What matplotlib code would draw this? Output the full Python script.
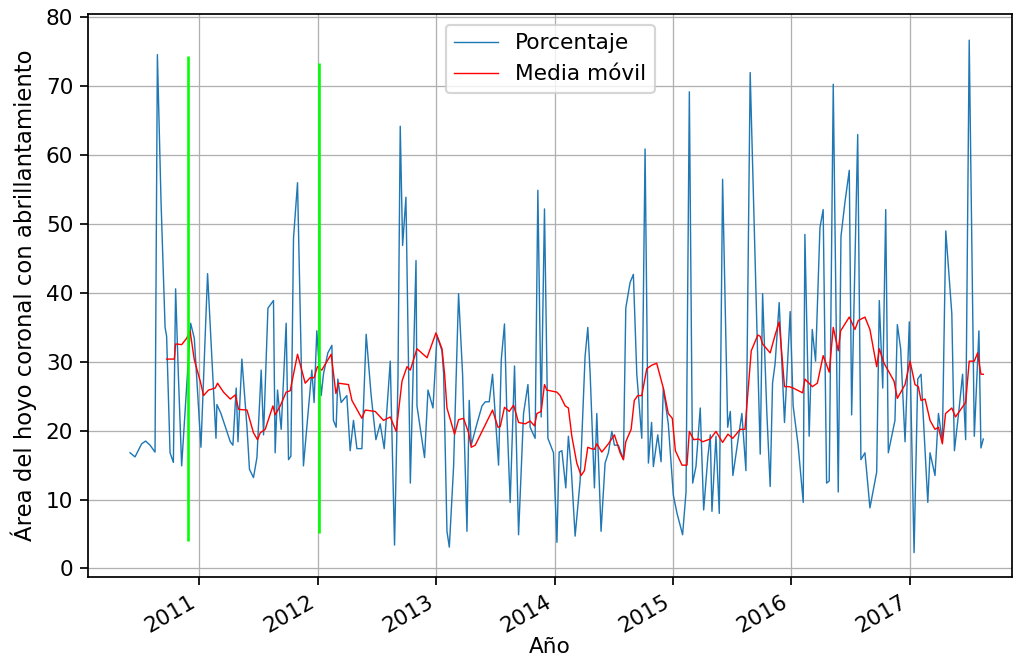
import numpy as np
import pandas as pd
import matplotlib
matplotlib.use("Agg")
import matplotlib.pyplot as plt

# fecha (año decimal) y porcentaje
anio = [2010.415, 2010.457, 2010.513, 2010.547, 2010.584, 2010.626, 2010.646, 2010.677, 2010.711, 2010.724,
        2010.753, 2010.781, 2010.800, 2010.823, 2010.851, 2010.893, 2010.927, 2010.958, 2011.014, 2011.070,
        2011.107, 2011.141, 2011.149, 2011.183, 2011.262, 2011.284, 2011.312, 2011.327, 2011.360, 2011.403,
        2011.424, 2011.458, 2011.487, 2011.523, 2011.543, 2011.580, 2011.627, 2011.641, 2011.661, 2011.692,
        2011.734, 2011.754, 2011.774, 2011.796, 2011.830, 2011.880, 2011.951, 2011.970, 2011.993, 2012.030,
        2012.049, 2012.086, 2012.120, 2012.133, 2012.156, 2012.170, 2012.198, 2012.246, 2012.274, 2012.302,
        2012.331, 2012.373, 2012.409, 2012.451, 2012.491, 2012.527, 2012.561, 2012.612, 2012.648, 2012.677,
        2012.696, 2012.716, 2012.744, 2012.781, 2012.829, 2012.837, 2012.901, 2012.930, 2012.972, 2013.006,
        2013.048, 2013.062, 2013.090, 2013.110, 2013.146, 2013.188, 2013.222, 2013.259, 2013.278, 2013.295,
        2013.343, 2013.386, 2013.414, 2013.447, 2013.475, 2013.526, 2013.549, 2013.576, 2013.597, 2013.624,
        2013.661, 2013.695, 2013.737, 2013.774, 2013.793, 2013.835, 2013.858, 2013.886, 2013.914, 2013.943,
        2013.990, 2014.019, 2014.038, 2014.061, 2014.094, 2014.116, 2014.139, 2014.173, 2014.215, 2014.257,
        2014.280, 2014.300, 2014.336, 2014.356, 2014.392, 2014.426, 2014.454, 2014.483, 2014.505, 2014.538,
        2014.581, 2014.601, 2014.637, 2014.665, 2014.694, 2014.736, 2014.764, 2014.792, 2014.819, 2014.834,
        2014.871, 2014.899, 2014.918, 2014.960, 2015.003, 2015.034, 2015.081, 2015.110, 2015.138, 2015.166,
        2015.194, 2015.230, 2015.259, 2015.295, 2015.315, 2015.329, 2015.363, 2015.391, 2015.419, 2015.462,
        2015.484, 2015.506, 2015.582, 2015.616, 2015.652, 2015.737, 2015.757, 2015.793, 2015.821, 2015.841,
        2015.863, 2015.897, 2015.942, 2015.990, 2016.015, 2016.057, 2016.100, 2016.114, 2016.150, 2016.176,
        2016.204, 2016.241, 2016.268, 2016.297, 2016.319, 2016.353, 2016.395, 2016.418, 2016.451, 2016.488,
        2016.508, 2016.559, 2016.586, 2016.620, 2016.662, 2016.719, 2016.741, 2016.770, 2016.795, 2016.817,
        2016.846, 2016.873, 2016.893, 2016.921, 2016.958, 2016.994, 2017.034, 2017.065, 2017.093, 2017.150,
        2017.169, 2017.211, 2017.240, 2017.273, 2017.302, 2017.353, 2017.375, 2017.414, 2017.444, 2017.470,
        2017.500, 2017.543, 2017.582, 2017.599, 2017.619]
porcentaje = [16.8, 16.2, 18.1, 18.5, 17.9, 16.9, 74.6, 53.1, 35.0, 33.7,
              16.8, 15.4, 40.6, 28.2, 14.9, 26.2, 35.6, 33.4, 17.6, 42.8,
              30.3, 18.9, 23.8, 22.5, 18.4, 17.9, 26.2, 18.4, 30.4, 20.5,
              14.4, 13.2, 16.1, 28.8, 19.4, 37.8, 38.9, 16.8, 25.9, 20.2,
              35.6, 15.8, 16.3, 47.9, 56.0, 14.9, 28.8, 24.1, 34.5, 25.1,
              28.2, 31.3, 32.4, 21.5, 20.5, 27.5, 24.1, 25.1, 17.1, 21.5,
              17.4, 17.4, 34.0, 25.1, 18.7, 21.0, 17.4, 30.1, 3.4, 27.7,
              64.2, 46.9, 53.9, 12.4, 44.7, 23.6, 16.1, 25.9, 23.3, 33.8,
              31.6, 28.2, 5.4, 3.1, 14.8, 39.9, 28.2, 5.4, 24.4, 17.9,
              21.0, 23.6, 24.2, 24.2, 28.2, 15.0, 30.3, 35.5, 22.0, 9.6,
              29.4, 4.9, 22.5, 26.7, 20.5, 18.9, 54.9, 22.0, 52.2, 18.9,
              16.8, 3.8, 16.9, 17.1, 11.7, 19.2, 14.8, 4.7, 12.7, 30.8,
              35.0, 28.2, 11.7, 22.5, 5.4, 15.3, 16.8, 19.9, 17.9, 17.9,
              15.8, 37.8, 41.5, 42.7, 28.2, 18.9, 60.9, 15.3, 21.2, 14.8,
              19.4, 15.5, 26.2, 21.0, 10.6, 8.0, 4.9, 11.1, 69.2, 12.4,
              14.8, 23.3, 8.5, 16.3, 19.4, 8.3, 19.2, 8.0, 56.5, 20.5,
              22.8, 13.5, 22.5, 14.2, 72.0, 16.6, 39.9, 22.5, 11.9, 26.9,
              29.8, 38.6, 21.2, 37.3, 23.6, 17.9, 9.6, 48.5, 19.2, 34.7,
              30.1, 49.5, 52.1, 12.4, 12.7, 70.3, 11.1, 48.2, 53.1, 57.8,
              22.3, 63.0, 15.8, 16.8, 8.8, 14.0, 38.9, 26.2, 52.1, 16.8,
              19.2, 21.5, 35.4, 31.9, 18.4, 35.8, 2.3, 27.5, 28.2, 9.6,
              16.8, 13.5, 22.5, 18.4, 49.0, 37.0, 17.1, 23.1, 28.2, 18.7,
              76.7, 19.2, 34.5, 17.5, 18.8]

# media movil
anio_media = [2010.724, 2010.789, 2010.800, 2010.851, 2010.893, 2010.922, 2010.958, 2011.008, 2011.036, 2011.078,
              2011.135, 2011.154, 2011.205, 2011.262, 2011.304, 2011.332, 2011.403, 2011.458, 2011.492, 2011.515,
              2011.557, 2011.622, 2011.641, 2011.684, 2011.734, 2011.768, 2011.830, 2011.895, 2011.937, 2011.970,
              2011.998, 2012.035, 2012.114, 2012.154, 2012.176, 2012.260, 2012.289, 2012.373, 2012.401, 2012.485,
              2012.555, 2012.612, 2012.662, 2012.711, 2012.753, 2012.781, 2012.837, 2012.922, 2012.997, 2013.048,
              2013.070, 2013.090, 2013.154, 2013.188, 2013.230, 2013.273, 2013.295, 2013.329, 2013.386, 2013.475,
              2013.521, 2013.540, 2013.576, 2013.616, 2013.653, 2013.695, 2013.751, 2013.793, 2013.830, 2013.850,
              2013.886, 2013.914, 2013.934, 2014.019, 2014.046, 2014.089, 2014.116, 2014.145, 2014.187, 2014.224,
              2014.251, 2014.280, 2014.308, 2014.336, 2014.356, 2014.398, 2014.454, 2014.505, 2014.553, 2014.581,
              2014.601, 2014.646, 2014.673, 2014.702, 2014.736, 2014.778, 2014.819, 2014.862, 2014.918, 2014.960,
              2014.994, 2015.020, 2015.076, 2015.118, 2015.138, 2015.175, 2015.217, 2015.251, 2015.315, 2015.363,
              2015.419, 2015.464, 2015.505, 2015.568, 2015.608, 2015.661, 2015.717, 2015.737, 2015.757, 2015.821,
              2015.863, 2015.897, 2015.942, 2015.981, 2016.015, 2016.095, 2016.114, 2016.177, 2016.219, 2016.268,
              2016.319, 2016.353, 2016.395, 2016.415, 2016.488, 2016.536, 2016.564, 2016.620, 2016.662, 2016.719,
              2016.741, 2016.781, 2016.865, 2016.893, 2016.958, 2017.000, 2017.042, 2017.070, 2017.093, 2017.127,
              2017.169, 2017.211, 2017.240, 2017.273, 2017.300, 2017.353, 2017.384, 2017.450, 2017.470, 2017.500,
              2017.543, 2017.571, 2017.599, 2017.619]
media = [30.4, 30.4, 32.6, 32.5, 33.4, 34.5, 30.3, 27.2, 25.1, 25.9,
         26.2, 26.9, 25.6, 24.6, 25.2, 23.1, 23.0, 19.7, 18.7, 19.7,
         20.2, 23.6, 22.3, 23.6, 25.6, 25.8, 31.1, 26.9, 27.7, 27.7,
         29.3, 28.8, 31.1, 25.4, 26.9, 26.7, 24.4, 21.8, 23.0, 22.8,
         21.5, 22.0, 19.9, 27.2, 29.3, 28.8, 31.9, 30.6, 34.2, 31.9,
         28.2, 23.3, 19.5, 21.6, 21.8, 19.7, 17.6, 17.9, 19.9, 23.0,
         20.5, 20.6, 23.4, 22.8, 23.7, 21.2, 21.0, 21.4, 20.7, 22.5,
         22.8, 26.7, 25.9, 25.6, 25.1, 23.6, 23.3, 19.2, 15.3, 13.5,
         14.2, 17.6, 17.4, 17.3, 18.1, 16.9, 18.1, 19.4, 16.8, 15.8,
         18.4, 20.2, 24.4, 25.1, 25.1, 29.0, 29.5, 29.8, 26.2, 22.5,
         21.8, 17.1, 15.0, 15.0, 19.9, 18.7, 18.8, 18.4, 18.8, 19.9,
         18.3, 19.5, 18.9, 20.2, 20.2, 31.6, 33.9, 33.7, 32.6, 31.3,
         33.9, 35.8, 26.4, 26.4, 26.2, 25.5, 27.5, 26.4, 26.9, 30.9,
         28.5, 35.0, 31.6, 34.5, 36.5, 34.7, 36.0, 36.5, 34.7, 29.3,
         31.9, 29.8, 27.2, 24.7, 26.7, 30.1, 26.7, 26.4, 24.4, 24.6,
         21.5, 20.2, 20.5, 18.1, 22.5, 23.3, 22.0, 23.6, 24.1, 30.1,
         30.1, 31.3, 28.2, 28.2]

# lineas verdes (fecha, minimo, maximo)
anio_marcas = [2010.907, 2012.013]
marca_min = [4.0, 5.1]
marca_max = [74.4, 73.4]


def a_fecha(a):
    a = np.asarray(a)
    y = np.floor(a).astype(int)
    inicio = pd.to_datetime([f"{v}-01-01" for v in y])
    dias = np.array([366 if (v % 4 == 0) else 365 for v in y])
    return inicio + pd.to_timedelta((a - y) * dias, unit="D")


fechas = a_fecha(anio)
fechas_media = a_fecha(anio_media)
fechas_marcas = a_fecha(anio_marcas)

# la imagen original es mas pequeña y ampliada: se simula con un dpi alto
DPI = 156
fig = plt.figure(figsize=(1016 / DPI, 666 / DPI), dpi=DPI)
ax = fig.add_axes([0.087, 0.134, 0.909, 0.845])

ax.plot(fechas, porcentaje, color="tab:blue", linewidth=0.65, label="Porcentaje")
ax.plot(fechas_media, media, color="red", linewidth=0.65, label="Media móvil")
for f, lo, hi in zip(fechas_marcas, marca_min, marca_max):
    ax.vlines(f, lo, hi, color="#00ff00", linewidth=1.2)

ax.set_xlim(a_fecha([2010.063, 2017.861]))
ax.set_ylim(-1.2, 80.5)
ax.grid(True, linewidth=0.6)
ax.set_xlabel("Año", labelpad=0)
ax.set_ylabel("Área del hoyo coronal con abrillantamiento", fontsize=10.5)
ax.legend(loc="upper center")
for lab in ax.get_xticklabels():
    lab.set_rotation(30)
    lab.set_ha("right")

fig.savefig("out.png", dpi=DPI)
